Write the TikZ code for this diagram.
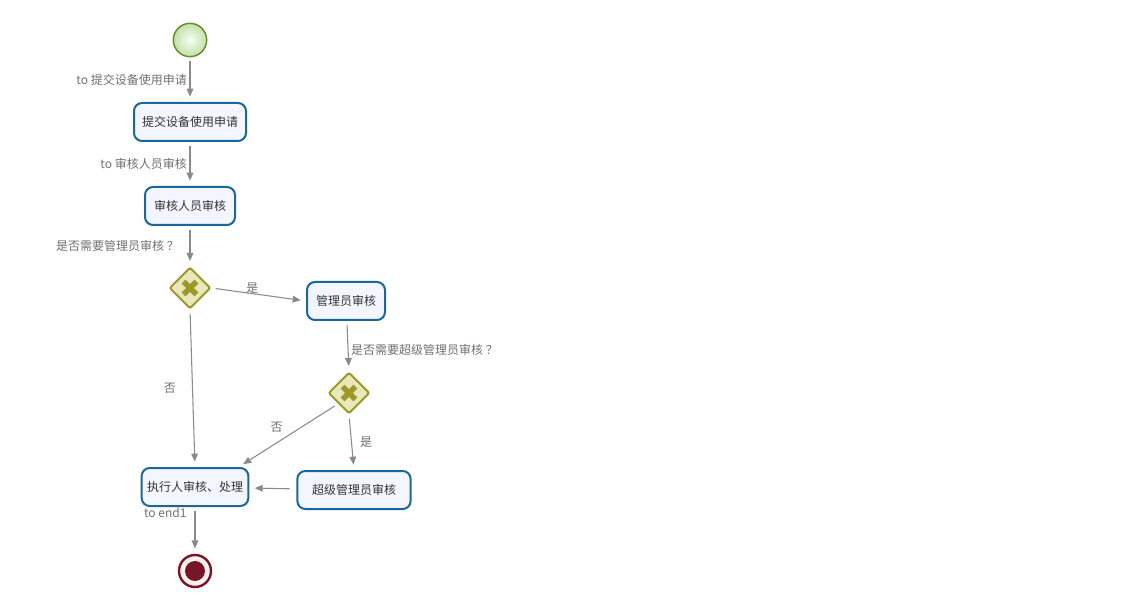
\documentclass[tikz,border=0pt]{standalone}
\usepackage{fontspec}
\setmainfont{Noto Sans CJK SC}
\usetikzlibrary{positioning,shapes.geometric,arrows.meta}

\definecolor{taskline}{HTML}{1A6798}
\definecolor{taskfill}{HTML}{F4F6FF}
\definecolor{gwline}{HTML}{9C982A}
\definecolor{gwfill}{HTML}{E8E8B8}
\definecolor{flowgray}{HTML}{8A8A8A}
\definecolor{labelgray}{HTML}{707070}
\definecolor{endred}{HTML}{761626}
\definecolor{startline}{HTML}{6A8C2A}
\definecolor{startfill}{HTML}{C4E0A8}

\tikzset{
  task/.style={draw=taskline, line width=1.5pt, fill=taskfill, rounded corners=6pt,
    minimum height=28.5pt, inner xsep=6pt, font=\fontsize{9}{11}\selectfont, text=black!80},
  gateway/.style={diamond, draw=gwline, line width=1.5pt, fill=gwfill, inner sep=0pt,
    minimum size=31pt, rounded corners=1.5pt,
    path picture={\draw[gwline, line width=4pt]
      ([shift={(-4.8pt,-4.8pt)}]path picture bounding box.center) -- ([shift={(4.8pt,4.8pt)}]path picture bounding box.center)
      ([shift={(-4.8pt,4.8pt)}]path picture bounding box.center) -- ([shift={(4.8pt,-4.8pt)}]path picture bounding box.center);}},
  startev/.style={circle, draw=startline, line width=1.1pt, inner sep=0pt, minimum size=25pt,
    inner color=green!5, outer color=startfill},
  endev/.style={circle, draw=endred, line width=1.8pt, fill=red!6, inner sep=0pt, minimum size=24pt,
    path picture={\fill[endred] (path picture bounding box.center) circle (7.5pt);}},
  flow/.style={draw=flowgray, line width=0.8pt, -{Triangle[length=6pt,width=5pt]},
    shorten <=3pt, shorten >=4pt},
  flowlabel/.style={text=labelgray, font=\fontsize{9}{11}\selectfont, inner sep=2pt}
}

\begin{document}
\begin{tikzpicture}[x=0.75pt, y=-0.75pt]
  \useasboundingbox (0,0) rectangle (1129,595);

  \node[startev] (start) at (190,40) {};
  \node[task] (submit) at (190,122) {提交设备使用申请};
  \node[task, minimum width=67.5pt] (review) at (190,206) {审核人员审核};
  \node[gateway] (gw1) at (190,288) {};
  \node[task, minimum width=58.5pt] (admin) at (346,301) {管理员审核};
  \node[gateway] (gw2) at (349,393) {};
  \node[task, inner xsep=4pt] (exec) at (195,487) {执行人审核、处理};
  \node[task, minimum width=85pt] (super) at (354,490) {超级管理员审核};
  \node[endev] (end1) at (195,571) {};

  \draw[flow] (start) -- node[flowlabel, left] {to 提交设备使用申请} (submit);
  \draw[flow] (submit) -- node[flowlabel, left] {to 审核人员审核} (review);
  \draw[flow] (review) -- node[flowlabel, left=6pt] {是否需要管理员审核 ？} (gw1);
  \draw[flow] (gw1.east) -- node[flowlabel, above left=-2pt and -2pt] {是} (admin.west);
  \draw[flow] (admin) -- node[flowlabel, right, yshift=-3pt] {是否需要超级管理员审核 ？} (gw2.north);
  \draw[flow] (gw1.south) -- node[flowlabel, left=10pt] {否} (exec.north);
  \draw[flow] (gw2.south west) -- node[flowlabel, above left=0pt and 2pt] {否} ([xshift=-8pt]exec.north east);
  \draw[flow] (gw2.south) -- node[flowlabel, right=4pt] {是} (super.north);
  \draw[flow, shorten <=5pt] (super) -- (exec);
  \draw[flow] (exec) -- node[flowlabel, pos=0.12, left=4pt] {to end1} (end1);

\end{tikzpicture}
\end{document}
